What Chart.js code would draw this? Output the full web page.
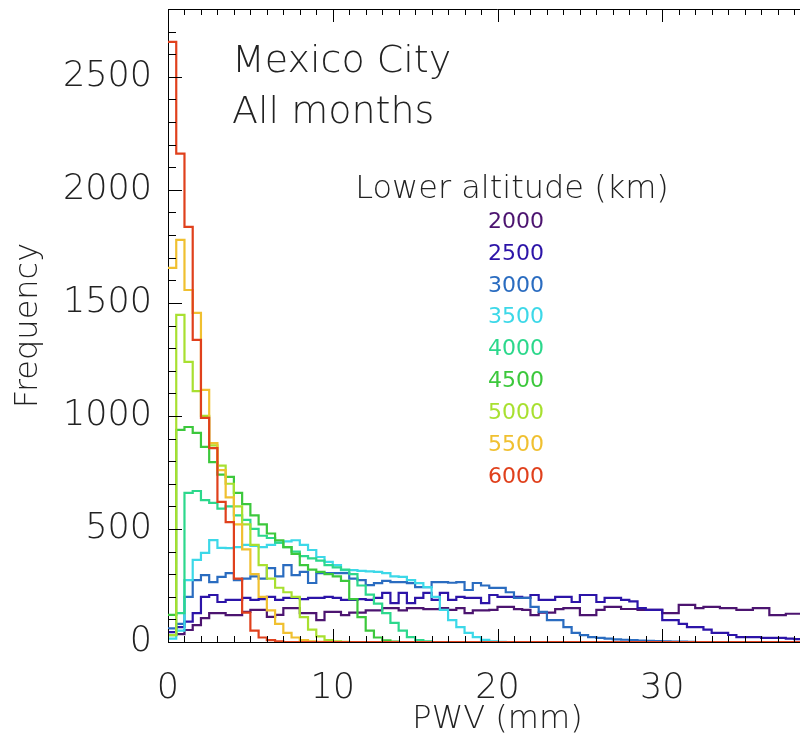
<!DOCTYPE html>
<html>
<head>
<meta charset="utf-8">
<script src="https://cdn.jsdelivr.net/npm/chart.js@4.4.1/dist/chart.umd.min.js"></script>
<style>
html,body{margin:0;padding:0;background:#fff;overflow:hidden;width:800px;height:743px}
#wrap{position:relative;width:827px;height:743px}
</style>
</head>
<body>
<div id="wrap"><canvas id="c" width="827" height="743"></canvas></div>
<script>
// ── DATA ─────────────────────────────────────────────────
// histogram bins are 0.5 mm wide, values are counts per bin
const BIN_WIDTH = 0.5;
const ALTITUDES = ['2000','2500','3000','3500','4000','4500','5000','5500','6000'];
const COLORS = ['#4c1470','#2c14a8','#2a6cc0','#3cd8e8','#2cd88c','#3cc83c','#a8e030','#f0c030','#e0401c'];

const PWV_2000 = [31,35,53,75,106,128,128,119,119,133, 142,142,111,120,150,150,128,128,97,133,
  133,119,130,130,140,140,150,150,140,150, 150,145,145,150,142,150,128,140,140,142,
  155,155,145,142,119,130,130,145,150,150, 119,119,142,155,155,146,146,142,142,142,
  128,128,164,164,150,155,155,150,150,142, 142,150,150,119,119,125,125,120,125,118];
const PWV_2500 = [44,66,90,128,200,208,177,186,186,195, 186,190,200,186,195,195,190,195,195,200,
  195,186,186,190,186,195,217,172,217,172, 195,217,186,217,186,200,195,195,172,208,
  200,200,200,195,208,186,186,200,200,177, 208,208,177,195,195,186,180,150,142,142,
  97,97,80,66,66,55,40,40,31,22, 22,22,18,18,18,15,13,13,12,10];
const PWV_3000 = [60,80,200,274,296,265,288,305,274,280, 290,280,327,290,340,296,310,261,305,305,
  305,305,280,274,252,260,270,265,265,260, 243,243,265,265,262,265,230,261,250,239,
  239,220,195,195,155,133,97,97,66,40, 30,22,18,15,12,10,8,6,5,4,
  3,2,2,1,0,0,0,0,0,0, 0,0,0,0,0,0,0,0,0,0];
const PWV_3500 = [15,50,274,363,394,451,416,415,420,430, 425,420,430,440,445,450,430,407,376,354,
  340,318,318,315,312,310,305,290,288,274, 260,243,200,142,97,66,40,22,9,3,
  1,0,0,0,0,0,0,0,0,0, 0,0,0,0,0,0,0,0,0,0,
  0,0,0,0,0,0,0,0,0,0, 0,0,0,0,0,0,0,0,0,0];
const PWV_4000 = [30,128,660,668,628,615,590,600,560,540, 500,470,460,440,420,400,380,370,360,340,
  330,320,300,250,210,170,128,85,50,22, 8,3,0,0,0,0,0,0,0,0,
  0,0,0,0,0,0,0,0,0,0, 0,0,0,0,0,0,0,0,0,0,
  0,0,0,0,0,0,0,0,0,0, 0,0,0,0,0,0,0,0,0,0];
const PWV_4500 = [120,938,951,925,863,796,740,730,660,610, 560,520,480,450,420,390,340,320,310,300,
  290,270,190,110,50,20,7,2,0,0, 0,0,0,0,0,0,0,0,0,0,
  0,0,0,0,0,0,0,0,0,0, 0,0,0,0,0,0,0,0,0,0,
  0,0,0,0,0,0,0,0,0,0, 0,0,0,0,0,0,0,0,0,0];
const PWV_5000 = [30,1447,1239,1110,1000,870,780,700,600,520, 430,340,280,240,220,200,110,55,25,8,
  3,1,0,0,0,0,0,0,0,0, 0,0,0,0,0,0,0,0,0,0,
  0,0,0,0,0,0,0,0,0,0, 0,0,0,0,0,0,0,0,0,0,
  0,0,0,0,0,0,0,0,0,0, 0,0,0,0,0,0,0,0,0,0];
const PWV_5500 = [1655,1779,1557,1456,1115,880,760,640,520,410, 300,200,140,80,40,20,8,3,1,0,
  0,0,0,0,0,0,0,0,0,0, 0,0,0,0,0,0,0,0,0,0,
  0,0,0,0,0,0,0,0,0,0, 0,0,0,0,0,0,0,0,0,0,
  0,0,0,0,0,0,0,0,0,0, 0,0,0,0,0,0,0,0,0,0];
const PWV_6000 = [2655,2160,1836,1336,991,858,620,530,280,130, 50,20,8,3,0,0,0,0,0,0,
  0,0,0,0,0,0,0,0,0,0, 0,0,0,0,0,0,0,0,0,0,
  0,0,0,0,0,0,0,0,0,0, 0,0,0,0,0,0,0,0,0,0,
  0,0,0,0,0,0,0,0,0,0, 0,0,0,0,0,0,0,0,0,0];
const SERIES = [PWV_2000,PWV_2500,PWV_3000,PWV_3500,PWV_4000,PWV_4500,PWV_5000,PWV_5500,PWV_6000];

const X_TICKS = [0,10,20,30,40];
const Y_TICKS = [0,500,1000,1500,2000,2500];
const X_MINOR = 1, Y_MINOR = 100;
const TITLE_LINES = ['Mexico City','All months'];
const LEGEND_TITLE = 'Lower altitude (km)';

const FONT = 'DejaVu Sans';
const WEIGHT = 200;
const INK = '#222';

// step points at bin left edges, plus the closing right edge
function histPoints(vals){
    const pts = vals.map((v,i)=>({x:i*BIN_WIDTH, y:v}));
    pts.push({x:vals.length*BIN_WIDTH, y:vals[vals.length-1]});
    return pts;
}

// ── PLUGINS ──────────────────────────────────────────────
const frameTicks = {
    id:'frameTicks',
    afterDraw(chart){
        const {ctx, chartArea:a, scales:{x,y}} = chart;
        ctx.save();
        ctx.strokeStyle='#000'; ctx.lineWidth=1;
        ctx.beginPath();
        ctx.moveTo(a.left, a.top+0.5); ctx.lineTo(a.right, a.top+0.5);
        ctx.moveTo(a.right-0.5, a.top); ctx.lineTo(a.right-0.5, a.bottom);
        for(let v=x.min; v<=x.max; v+=X_MINOR){
            const px = Math.round(x.getPixelForValue(v))+0.5;
            const len = X_TICKS.includes(v) ? 13 : 6;
            ctx.moveTo(px,a.bottom); ctx.lineTo(px,a.bottom-len);
            ctx.moveTo(px,a.top); ctx.lineTo(px,a.top+len);
        }
        for(let v=y.min; v<=y.max; v+=Y_MINOR){
            const py = Math.round(y.getPixelForValue(v))+0.5;
            const len = Y_TICKS.includes(v) ? 14 : 8;
            ctx.moveTo(a.left,py); ctx.lineTo(a.left+len,py);
            ctx.moveTo(a.right,py); ctx.lineTo(a.right-len,py);
        }
        ctx.stroke();
        ctx.restore();
    }
};

const notes = {
    id:'notes',
    afterDraw(chart){
        const ctx = chart.ctx;
        ctx.save();
        ctx.textBaseline='middle';
        ctx.fillStyle=INK;
        ctx.textAlign='left';
        ctx.font=`${WEIGHT} 38px "${FONT}"`;
        ctx.fillText(TITLE_LINES[0], 232, 62);
        ctx.fillText(TITLE_LINES[1], 232, 113);
        ctx.textAlign='center';
        ctx.font=`${WEIGHT} 32px "${FONT}"`;
        ctx.fillText(LEGEND_TITLE, 512, 190);
        ctx.font=`22px "${FONT}"`;
        chart.data.datasets.forEach((d,i)=>{
            ctx.fillStyle=d.borderColor;
            ctx.fillText(d.label, 516, 222+i*31.9);
        });
        ctx.restore();
    }
};

// ── CHART ────────────────────────────────────────────────
const tickFont = {family:FONT,size:35,weight:WEIGHT};
const titleFont = {family:FONT,size:32,weight:WEIGHT};

new Chart(document.getElementById('c'),{
    type:'line',
    data:{datasets:SERIES.map((vals,i)=>({
        label:ALTITUDES[i],
        data:histPoints(vals),
        borderColor:COLORS[i],
        backgroundColor:COLORS[i],
        borderWidth:2.2,
        pointRadius:0,
        stepped:'before',
        fill:false,
        order:SERIES.length-i
    }))},
    options:{
        responsive:false,
        animation:false,
        events:[],
        layout:{padding:{top:9,right:0,bottom:0,left:0}},
        plugins:{legend:{display:false},tooltip:{enabled:false}},
        scales:{
            x:{
                type:'linear',min:0,max:40,
                afterBuildTicks:s=>{s.ticks=X_TICKS.map(v=>({value:v}));},
                afterFit:s=>{s.height=101;s.paddingLeft=0;s.paddingRight=0;},
                grid:{display:false,drawTicks:false},
                border:{display:true,color:'#000',width:1},
                ticks:{font:tickFont,color:INK,padding:26,maxRotation:0,autoSkip:false,callback:v=>String(v)},
                title:{display:true,text:'PWV (mm)',font:titleFont,color:INK,padding:{top:0,bottom:4}}
            },
            y:{
                type:'linear',min:0,max:2800,
                afterBuildTicks:s=>{s.ticks=Y_TICKS.map(v=>({value:v}));},
                afterFit:s=>{s.width=168;s.paddingTop=0;s.paddingBottom=0;},
                grid:{display:false,drawTicks:false},
                border:{display:true,color:'#000',width:1},
                ticks:{font:tickFont,color:INK,padding:16,autoSkip:false,callback:v=>String(v)},
                title:{display:true,text:'Frequency',font:titleFont,color:INK,padding:{top:9,bottom:0}}
            }
        }
    },
    plugins:[frameTicks,notes]
});
</script>
</body>
</html>
